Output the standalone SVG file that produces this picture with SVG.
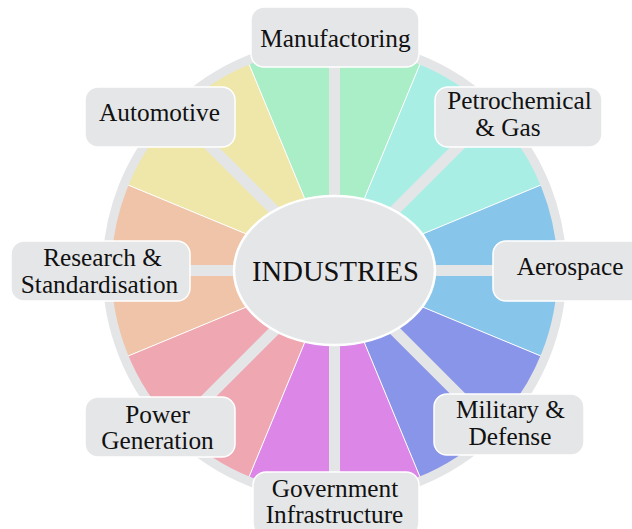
<svg xmlns="http://www.w3.org/2000/svg" width="632" height="529" viewBox="0 0 632 529">
  <style>
    .sector { stroke: none; }
    .divider { stroke: #ffffff; stroke-width: 1; }
    .ring { fill: none; stroke: #e4e5e7; stroke-width: 9; }
    .spoke { stroke: #e4e5e7; stroke-width: 11; stroke-linecap: butt; }
    .box { fill: #e5e6e8; stroke: #ffffff; stroke-width: 1.5; }
    .hub { fill: #e5e6e8; stroke: #ffffff; stroke-width: 2.5; }
    text { font-family: "Liberation Serif", "Times New Roman", serif; fill: #111111; text-anchor: middle; }
    .label { font-size: 25.3px; }
    .hub-label { font-size: 28.6px; }
  </style>

  <rect width="632" height="529" fill="#ffffff"/>

  <!-- coloured wheel: eight 45° sectors around (334.5, 270.5) -->
  <g id="wheel">
    <path class="sector" fill="#a9eec6" d="M334.5 270.5 L248.01 61.70 A226 226 0 0 1 420.99 61.70 Z"/>
    <path class="sector" fill="#a8eee5" d="M334.5 270.5 L420.99 61.70 A226 226 0 0 1 543.30 184.01 Z"/>
    <path class="sector" fill="#88c5ea" d="M334.5 270.5 L543.30 184.01 A226 226 0 0 1 543.30 356.99 Z"/>
    <path class="sector" fill="#8895e8" d="M334.5 270.5 L543.30 356.99 A226 226 0 0 1 420.99 479.30 Z"/>
    <path class="sector" fill="#dc87e8" d="M334.5 270.5 L420.99 479.30 A226 226 0 0 1 248.01 479.30 Z"/>
    <path class="sector" fill="#efa7b1" d="M334.5 270.5 L248.01 479.30 A226 226 0 0 1 125.70 356.99 Z"/>
    <path class="sector" fill="#efc4a9" d="M334.5 270.5 L125.70 356.99 A226 226 0 0 1 125.70 184.01 Z"/>
    <path class="sector" fill="#efe6a9" d="M334.5 270.5 L125.70 184.01 A226 226 0 0 1 248.01 61.70 Z"/>
    <line class="divider" x1="334.5" y1="270.5" x2="248.01" y2="61.70"/>
    <line class="divider" x1="334.5" y1="270.5" x2="420.99" y2="61.70"/>
    <line class="divider" x1="334.5" y1="270.5" x2="543.30" y2="184.01"/>
    <line class="divider" x1="334.5" y1="270.5" x2="543.30" y2="356.99"/>
    <line class="divider" x1="334.5" y1="270.5" x2="420.99" y2="479.30"/>
    <line class="divider" x1="334.5" y1="270.5" x2="248.01" y2="479.30"/>
    <line class="divider" x1="334.5" y1="270.5" x2="125.70" y2="356.99"/>
    <line class="divider" x1="334.5" y1="270.5" x2="125.70" y2="184.01"/>
    <circle class="ring" cx="334.5" cy="270.5" r="227.5"/>
  </g>

  <!-- spokes from the hub to each label -->
  <g id="connectors">
    <line class="spoke" x1="334.5" y1="270.5" x2="334.5" y2="42.5"/>
    <line class="spoke" x1="334.5" y1="270.5" x2="495.7" y2="109.3"/>
    <line class="spoke" x1="334.5" y1="270.5" x2="562.5" y2="270.5"/>
    <line class="spoke" x1="334.5" y1="270.5" x2="495.7" y2="431.7"/>
    <line class="spoke" x1="334.5" y1="270.5" x2="334.5" y2="498.5"/>
    <line class="spoke" x1="334.5" y1="270.5" x2="173.3" y2="431.7"/>
    <line class="spoke" x1="334.5" y1="270.5" x2="106.5" y2="270.5"/>
    <line class="spoke" x1="334.5" y1="270.5" x2="173.3" y2="109.3"/>
  </g>

  <g id="industries">
    <ellipse class="hub" cx="334.5" cy="270.5" rx="100.5" ry="74.5"/>
    <text class="hub-label" x="335.5" y="281">INDUSTRIES</text>
  </g>

  <g id="manufactoring">
    <rect class="box" x="251" y="7" width="168" height="60" rx="13"/>
    <text class="label" x="335.5" y="47">Manufactoring</text>
  </g>

  <g id="petrochemical">
    <rect class="box" x="435" y="87" width="167" height="60" rx="13"/>
    <text class="label" x="519.5" y="109">Petrochemical</text>
    <text class="label" x="508" y="136">&amp; Gas</text>
  </g>

  <g id="aerospace">
    <rect class="box" x="493" y="241" width="152" height="60" rx="13"/>
    <text class="label" x="570" y="275">Aerospace</text>
  </g>

  <g id="military">
    <rect class="box" x="434" y="394" width="150" height="61" rx="13"/>
    <text class="label" x="510.5" y="418">Military &amp;</text>
    <text class="label" x="510" y="445">Defense</text>
  </g>

  <g id="government">
    <rect class="box" x="253" y="472" width="166" height="64" rx="13"/>
    <text class="label" x="335" y="496.5">Government</text>
    <text class="label" x="334.5" y="522.5">Infrastructure</text>
  </g>

  <g id="power">
    <rect class="box" x="85" y="397" width="150" height="60" rx="13"/>
    <text class="label" x="157.5" y="423">Power</text>
    <text class="label" x="157.5" y="449">Generation</text>
  </g>

  <g id="research">
    <rect class="box" x="11" y="241" width="179" height="60" rx="13"/>
    <text class="label" x="102.5" y="266">Research &amp;</text>
    <text class="label" x="99.5" y="293">Standardisation</text>
  </g>

  <g id="automotive">
    <rect class="box" x="85" y="87" width="150" height="60" rx="13"/>
    <text class="label" x="159.5" y="121">Automotive</text>
  </g>
</svg>
